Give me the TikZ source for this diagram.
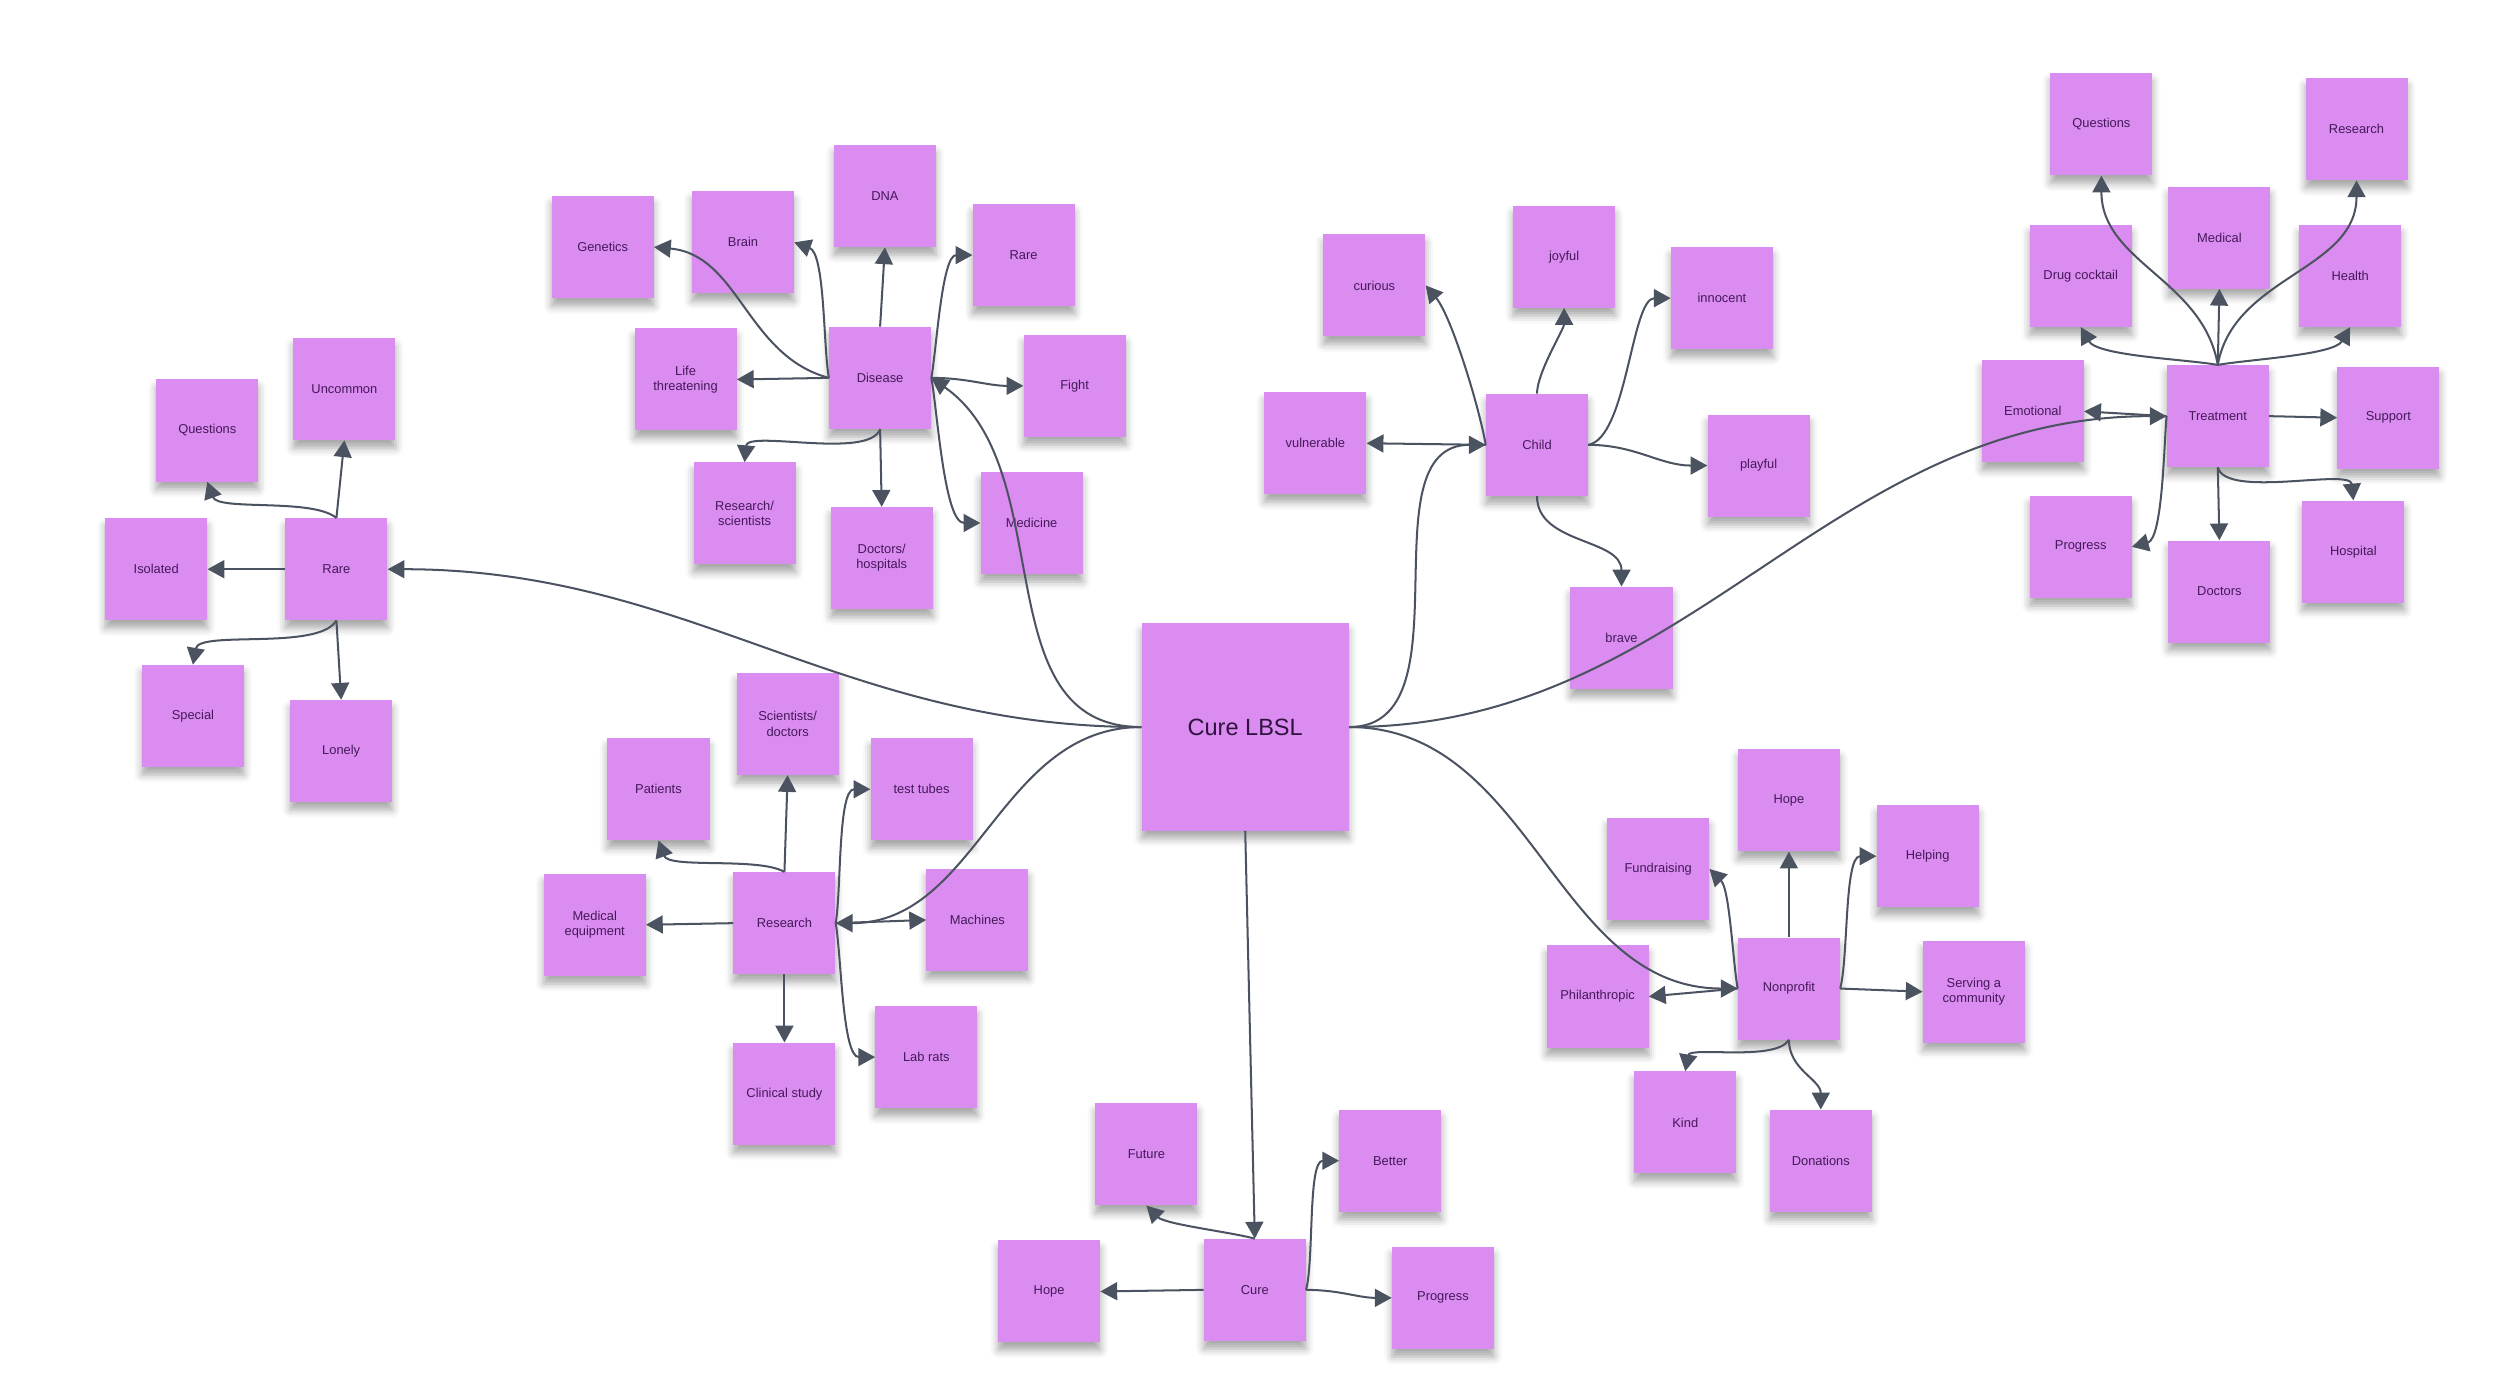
\documentclass[tikz,border=0pt]{standalone}
\usepackage{fontspec}
\setmainfont{Liberation Sans}
\usepackage{tikz}
\usetikzlibrary{arrows.meta,shadows.blur}
\definecolor{stickyfill}{HTML}{DA8CF0}
\definecolor{stickyink}{HTML}{45195A}
\definecolor{linkgray}{HTML}{4B5260}

\begin{document}
\begin{tikzpicture}[
  x=0.05cm, y=-0.05cm,
  font=\fontsize{11.5}{13.5}\selectfont,
  sticky/.style={rectangle, fill=stickyfill, text=stickyink, align=center, inner sep=0pt,
    minimum width=3.2cm, minimum height=3.2cm,
    blur shadow={shadow xshift=0pt, shadow yshift=-7pt, shadow blur radius=7pt, shadow opacity=35}},
  hub/.style={sticky, minimum width=6.5cm, minimum height=6.5cm, text=stickyink!70!black,
    font=\fontsize{21}{24}\selectfont},
  link/.style={draw=linkgray, line width=1.8pt, -{Triangle[length=15pt,width=16pt]}},
  soft/.style={looseness=0.6}
]
\useasboundingbox (0,0) rectangle (1568,874);

\node[hub] (lbsl) at (781,456) {Cure LBSL};

\node[sticky] (rare) at (211,357) {Rare};
\node[sticky] (uncommon) at (216,244) {Uncommon};
\node[sticky] (rareq) at (130,270) {Questions};
\node[sticky] (isolated) at (98,357) {Isolated};
\node[sticky] (special) at (121,449) {Special};
\node[sticky] (lonely) at (214,471) {Lonely};

\node[sticky] (disease) at (552,237) {Disease};
\node[sticky] (genetics) at (378,155) {Genetics};
\node[sticky] (brain) at (466,152) {Brain};
\node[sticky] (dna) at (555,123) {DNA};
\node[sticky] (drare) at (642,160) {Rare};
\node[sticky] (fight) at (674,242) {Fight};
\node[sticky] (lifethr) at (430,238) {Life\\threatening};
\node[sticky] (resci) at (467,322) {Research/\\scientists};
\node[sticky] (dochosp) at (553,350) {Doctors/\\hospitals};
\node[sticky] (medicine) at (647,328) {Medicine};

\node[sticky] (child) at (964,279) {Child};
\node[sticky] (curious) at (862,179) {curious};
\node[sticky] (joyful) at (981,161) {joyful};
\node[sticky] (innocent) at (1080,187) {innocent};
\node[sticky] (vulnerable) at (825,278) {vulnerable};
\node[sticky] (playful) at (1103,292) {playful};
\node[sticky] (brave) at (1017,400) {brave};

\node[sticky] (treat) at (1391,261) {Treatment};
\node[sticky] (tquest) at (1318,78) {Questions};
\node[sticky] (tresearch) at (1478,81) {Research};
\node[sticky] (medical) at (1392,149) {Medical};
\node[sticky] (drug) at (1305,173) {Drug cocktail};
\node[sticky] (health) at (1474,173) {Health};
\node[sticky] (emotional) at (1275,258) {Emotional};
\node[sticky] (support) at (1498,262) {Support};
\node[sticky] (tprogress) at (1305,343) {Progress};
\node[sticky] (doctors) at (1392,371) {Doctors};
\node[sticky] (hospital) at (1476,346) {Hospital};

\node[sticky] (research) at (492,579) {Research};
\node[sticky] (scidoc) at (494,454) {Scientists/\\doctors};
\node[sticky] (patients) at (413,495) {Patients};
\node[sticky] (tubes) at (578,495) {test tubes};
\node[sticky] (medequip) at (373,580) {Medical\\equipment};
\node[sticky] (machines) at (613,577) {Machines};
\node[sticky] (clinical) at (492,686) {Clinical study};
\node[sticky] (labrats) at (581,663) {Lab rats};

\node[sticky] (cure) at (787,809) {Cure};
\node[sticky] (future) at (719,724) {Future};
\node[sticky] (better) at (872,728) {Better};
\node[sticky] (chope) at (658,810) {Hope};
\node[sticky] (cprogress) at (905,814) {Progress};

\node[sticky] (nonprofit) at (1122,620) {Nonprofit};
\node[sticky] (nhope) at (1122,502) {Hope};
\node[sticky] (fundraising) at (1040,545) {Fundraising};
\node[sticky] (helping) at (1209,537) {Helping};
\node[sticky] (philan) at (1002,625) {Philanthropic};
\node[sticky] (serving) at (1238,622) {Serving a\\community};
\node[sticky] (kind) at (1057,704) {Kind};
\node[sticky] (donations) at (1142,728) {Donations};

\draw[link] (lbsl.west) to[out=180,in=0] (rare.east);
\draw[link] (lbsl.west) to[out=180,in=-35] (disease.east);
\draw[link] (lbsl.west) to[out=180,in=0] (research.east);
\draw[link] (lbsl.east) to[out=0,in=180] (child.west);
\draw[link] (lbsl.east) to[out=0,in=180] (treat.west);
\draw[link] (lbsl.east) to[out=0,in=180] (nonprofit.west);
\draw[link] (lbsl.south) -- (cure.north);

\draw[link] (rare.north) -- (uncommon.south);
\draw[link, soft] (rare.north) to[out=140,in=-70] (rareq.south);
\draw[link] (rare.west) -- (isolated.east);
\draw[link, soft] (rare.south) to[out=-120,in=80] (special.north);
\draw[link] (rare.south) -- (lonely.north);

\draw[link] (disease.north) -- (dna.south);
\draw[link, soft] (disease.west) to[out=100,in=-20] (brain.east);
\draw[link] (disease.west) to[out=165,in=-5] (genetics.east);
\draw[link] (disease.west) -- (lifethr.east);
\draw[link, soft] (disease.south) to[out=-110,in=85] (resci.north);
\draw[link] (disease.south) -- (dochosp.north);
\draw[link, soft] (disease.east) to[out=80,in=180] (drare.west);
\draw[link] (disease.east) to[out=0,in=180] (fight.west);
\draw[link, soft] (disease.east) to[out=-80,in=180] (medicine.west);

\draw[link] (child.west) -- (vulnerable.east);
\draw[link, soft] (child.west) to[out=100,in=-50] (curious.east);
\draw[link, soft] (child.north) to[out=90,in=-90] (joyful.south);
\draw[link, soft] (child.east) to[out=10,in=180] (innocent.west);
\draw[link] (child.east) to[out=0,in=180] (playful.west);
\draw[link] (child.south) to[out=-90,in=90] (brave.north);

\draw[link] (treat.west) -- (emotional.east);
\draw[link, soft] (treat.west) to[out=-95,in=15] (tprogress.east);
\draw[link] (treat.north) -- (medical.south);
\draw[link] (treat.north) to[out=100,in=-90] (tquest.south);
\draw[link] (treat.north) to[out=80,in=-90] (tresearch.south);
\draw[link, soft] (treat.north) to[out=170,in=-60] (drug.south);
\draw[link, soft] (treat.north) to[out=10,in=-120] (health.south);
\draw[link] (treat.east) -- (support.west);
\draw[link] (treat.south) -- (doctors.north);
\draw[link, soft] (treat.south) to[out=-75,in=95] (hospital.north);

\draw[link] (research.north) -- (scidoc.south);
\draw[link, soft] (research.north) to[out=150,in=-70] (patients.south);
\draw[link, soft] (research.east) to[out=80,in=180] (tubes.west);
\draw[link] (research.east) -- (machines.west);
\draw[link, soft] (research.east) to[out=-80,in=180] (labrats.west);
\draw[link] (research.west) -- (medequip.east);
\draw[link] (research.south) -- (clinical.north);

\draw[link, soft] (cure.north) to[out=165,in=-45] (future.south);
\draw[link] (cure.west) -- (chope.east);
\draw[link, soft] (cure.east) to[out=75,in=180] (better.west);
\draw[link] (cure.east) to[out=0,in=180] (cprogress.west);

\draw[link] (nonprofit.north) -- (nhope.south);
\draw[link, soft] (nonprofit.west) to[out=100,in=-45] (fundraising.east);
\draw[link] (nonprofit.west) -- (philan.east);
\draw[link, soft] (nonprofit.east) to[out=75,in=180] (helping.west);
\draw[link] (nonprofit.east) -- (serving.west);
\draw[link, soft] (nonprofit.south) to[out=-120,in=80] (kind.north);
\draw[link] (nonprofit.south) to[out=-90,in=90] (donations.north);
\end{tikzpicture}
\end{document}
